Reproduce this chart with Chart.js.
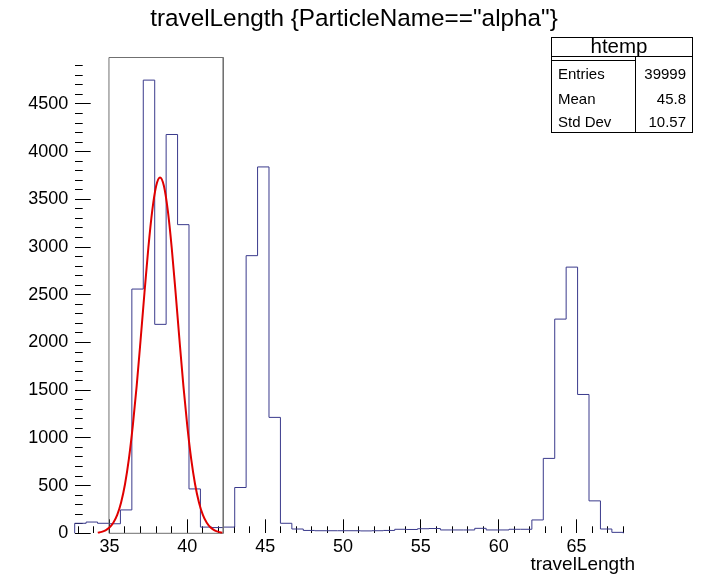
<!DOCTYPE html>
<html><head><meta charset="utf-8">
<script src="https://cdn.jsdelivr.net/npm/chart.js@4/dist/chart.umd.min.js"></script>
<style>html,body{margin:0;padding:0;background:#fff;overflow:hidden}</style>
</head><body>
<canvas id="c" width="705" height="584" style="width:705px;height:584px;display:block"></canvas>
<script>
// ---- data ----
const xRange = [32.77, 68.0];          // histogram axis range (48 bins)
const yMaxValue = 4987;                // top of frame
const binCounts = [105,118,105,100,245,2560,4750,2190,4180,3235,465,65,60,65,480,2910,3840,1215,105,45,30,27,27,27,27,25,27,30,42,40,48,50,35,35,35,52,35,35,42,42,140,785,2245,2790,1455,340,45,10];
const fitX = [34.25,34.5,34.75,35.0,35.25,35.5,35.75,36.0,36.25,36.5,36.75,37.0,37.25,37.5,37.75,38.0,38.25,38.5,38.75,39.0,39.25,39.5,39.75,40.0,40.25,40.5,40.75,41.0,41.25,41.5,41.75,42.0,42.25];
const fitY = [7,15,31,60,110,193,323,514,779,1125,1546,2023,2521,2993,3382,3640,3730,3640,3382,2993,2521,2023,1546,1125,779,514,323,193,110,60,31,15,7];
const fitBoxX = [34.97, 42.31];
const xMajorTicks = [35, 40, 45, 50, 55, 60, 65];
const yMajorTicks = [0, 500, 1000, 1500, 2000, 2500, 3000, 3500, 4000, 4500];
const xMinorStep = 1, yMinorStep = 100;
const titleText = 'travelLength {ParticleName=="alpha"}';
const xAxisTitle = 'travelLength';
const statsTitle = 'htemp';
const statsLabels = ['Entries', 'Mean', 'Std Dev'];
const statsValues = ['39999', '45.8', '10.57'];

// ---- build library data ----
const nBins = binCounts.length;
const binW = (xRange[1] - xRange[0]) / nBins;
const histPts = [{x: xRange[0], y: 0}];
binCounts.forEach((c, i) => histPts.push({x: xRange[0] + i * binW, y: c}));
histPts.push({x: xRange[1], y: binCounts[nBins - 1]});
histPts.push({x: xRange[1], y: 0});
const fitPts = fitX.map((x, i) => ({x: x, y: fitY[i]}));
const boxPts = [
  {x: fitBoxX[0], y: 0}, {x: fitBoxX[0], y: yMaxValue},
  {x: fitBoxX[1], y: yMaxValue}, {x: fitBoxX[1], y: 0}, {x: fitBoxX[0], y: 0}
];

const FONT = '"Liberation Sans", Arial, Helvetica, sans-serif';

const annot = {
  id: 'annot',
  afterDraw(chart) {
    const ctx = chart.ctx;
    ctx.save();
    ctx.fillStyle = '#000';
    ctx.textBaseline = 'alphabetic';
    ctx.font = '24.3px ' + FONT;
    ctx.textAlign = 'center';
    ctx.fillText(titleText, 354, 26);
    ctx.font = '19px ' + FONT;
    ctx.textAlign = 'right';
    ctx.fillText(xAxisTitle, 635, 570);
    // stats box
    const L = 551.5, R = 692.5, T = 37.5, B = 132.5, H = 56.5, H2 = 60.5, D = 635.5;
    ctx.fillStyle = '#fff';
    ctx.fillRect(L, T, R - L, B - T);
    ctx.strokeStyle = '#000';
    ctx.lineWidth = 1;
    ctx.strokeRect(L, T, R - L, B - T);
    ctx.beginPath();
    ctx.moveTo(L, H); ctx.lineTo(R, H);
    ctx.moveTo(L, H2); ctx.lineTo(D, H2);
    ctx.moveTo(D, H); ctx.lineTo(D, B);
    ctx.stroke();
    ctx.fillStyle = '#000';
    ctx.font = '20.5px ' + FONT;
    ctx.textAlign = 'center';
    ctx.fillText(statsTitle, 619, 53);
    ctx.font = '15px ' + FONT;
    const rowsY = [79, 103.5, 127];
    statsLabels.forEach((t, i) => {
      ctx.textAlign = 'left';
      ctx.fillText(t, 558, rowsY[i]);
      ctx.textAlign = 'right';
      ctx.fillText(statsValues[i], 686, rowsY[i]);
    });
    ctx.restore();
  }
};

const useTicks = list => (s => { s.ticks = list.map(v => ({value: v})); });

new Chart(document.getElementById('c'), {
  type: 'line',
  data: {
    datasets: [
      {label: 'fit', data: fitPts, borderColor: '#e00000', borderWidth: 2, pointRadius: 0,
       cubicInterpolationMode: 'monotone', fill: false, clip: false, xAxisID: 'x', yAxisID: 'y'},
      {label: 'range', data: boxPts, borderColor: '#707070', borderWidth: 1, pointRadius: 0,
       tension: 0, fill: false, clip: false, xAxisID: 'x', yAxisID: 'y'},
      {label: 'htemp', data: histPts, borderColor: '#3a3a8c', borderWidth: 1, pointRadius: 0,
       stepped: 'before', fill: false, clip: false, xAxisID: 'x', yAxisID: 'y'}
    ]
  },
  options: {
    responsive: false,
    maintainAspectRatio: false,
    animation: false,
    devicePixelRatio: 1,
    layout: {padding: {top: 57.5, right: 81.7, left: 0, bottom: 0}},
    plugins: {legend: {display: false}, tooltip: {enabled: false}, title: {display: false}},
    scales: {
      x: {
        type: 'linear', position: 'bottom', min: xRange[0], max: xRange[1], weight: 1,
        afterBuildTicks: useTicks(xMajorTicks),
        afterFit: s => { s.height = 50.7; },
        border: {display: false},
        grid: {display: true, drawOnChartArea: false, drawTicks: true, tickLength: -14, tickColor: '#000', tickWidth: 1},
        ticks: {autoSkip: false, maxRotation: 0, padding: 16.6,
                color: '#000', font: {family: FONT, size: 18}, callback: v => String(v)}
      },
      xMinor: {
        type: 'linear', position: 'bottom', min: xRange[0], max: xRange[1], weight: 0,
        afterFit: s => { s.height = 0; },
        border: {display: false},
        grid: {display: true, drawOnChartArea: false, drawTicks: true, tickLength: -7, tickColor: '#000', tickWidth: 1},
        ticks: {display: false, stepSize: xMinorStep, includeBounds: false, autoSkip: false}
      },
      y: {
        type: 'linear', position: 'left', min: 0, max: yMaxValue, weight: 1,
        afterBuildTicks: useTicks(yMajorTicks),
        afterFit: s => { s.width = 74.7; },
        border: {display: false},
        grid: {display: true, drawOnChartArea: false, drawTicks: true, tickLength: -16, tickColor: '#000', tickWidth: 1},
        ticks: {autoSkip: false, padding: 22.5,
                color: '#000', font: {family: FONT, size: 18}, callback: v => String(v)}
      },
      yMinor: {
        type: 'linear', position: 'left', min: 0, max: yMaxValue, weight: 0,
        afterFit: s => { s.width = 0; },
        border: {display: false},
        grid: {display: true, drawOnChartArea: false, drawTicks: true, tickLength: -8, tickColor: '#000', tickWidth: 1},
        ticks: {display: false, stepSize: yMinorStep, includeBounds: false, autoSkip: false}
      }
    }
  },
  plugins: [annot]
});
</script>
</body></html>
